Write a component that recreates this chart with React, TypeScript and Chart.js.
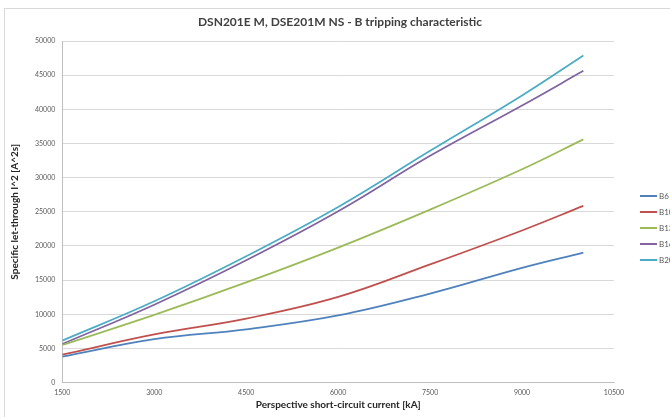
import React, { useEffect, useRef } from "react";
import { Chart, registerables } from "chart.js";

Chart.register(...registerables);

const currents = [1500, 3000, 4500, 6000, 7500, 9000, 10000];
const seriesNames = ["B6", "B10", "B13", "B16", "B20"];
const b6 = [3790, 6350, 7800, 9830, 13030, 16800, 19030];
const b10 = [4080, 7050, 9370, 12540, 17300, 22270, 25860];
const b13 = [5500, 9910, 14660, 19760, 25320, 31220, 35600];
const b16 = [5650, 11400, 17900, 25070, 33190, 40560, 45630];
const b20 = [6150, 11900, 18490, 25700, 33920, 42040, 47890];
const colors = ["#4F81BD", "#C0504D", "#9BBB59", "#8064A2", "#4BACC6"];
const chartTitle = "DSN201E M, DSE201M NS - B tripping characteristic";

const FONT = "Lato, 'Open Sans', sans-serif";

export default function App() {
  const ref = useRef<HTMLCanvasElement | null>(null);
  useEffect(() => {
    if (!ref.current) return;
    const all = [b6, b10, b13, b16, b20];
    const decorPlugin = {
      id: "decor",
      afterDraw(chart: any) {
        const ctx = chart.ctx;
        ctx.save();
        ctx.fillStyle = "#404040";
        ctx.font = `bold 12px ${FONT}`;
        ctx.textAlign = "center";
        ctx.textBaseline = "middle";
        ctx.fillText(chartTitle, 340, 22);
        chart.data.datasets.forEach((ds: any, i: number) => {
          const y = 196 + 16 * i;
          ctx.strokeStyle = ds.borderColor;
          ctx.lineWidth = 2;
          ctx.beginPath();
          ctx.moveTo(640, y);
          ctx.lineTo(657, y);
          ctx.stroke();
          ctx.fillStyle = "#595959";
          ctx.font = `8px ${FONT}`;
          ctx.textBaseline = "middle";
          ctx.textAlign = "left";
          ctx.fillText(ds.label, 659, y);
        });
        ctx.restore();
      },
    };
    const chart = new Chart(ref.current, {
      type: "line",
      data: {
        datasets: all.map((arr, i) => ({
          label: seriesNames[i],
          data: currents.map((x, j) => ({ x, y: arr[j] })),
          borderColor: colors[i],
          backgroundColor: colors[i],
          borderWidth: 1.75,
          pointRadius: 0,
          tension: 0.4,
          fill: false,
        })),
      },
      options: {
        animation: false,
        responsive: false,
        maintainAspectRatio: false,
        layout: { padding: { left: 5, right: 56, top: 41, bottom: 5 } },
        plugins: {
          legend: { display: false },
          tooltip: { enabled: false },
          title: { display: false },
        },
        scales: {
          x: {
            type: "linear",
            min: 1500,
            max: 10500,
            ticks: {
              stepSize: 1500,
              color: "#595959",
              font: { family: FONT, size: 7 },
              padding: 6,
              maxRotation: 0,
              callback: (v: any) => String(v),
            },
            grid: { display: false, drawTicks: false },
            border: { display: true, color: "#bfbfbf", width: 1 },
            title: {
              display: true,
              text: "Perspective short-circuit current [kA]",
              color: "#262626",
              font: { family: FONT, size: 10, weight: "bold" },
              padding: { top: -4, bottom: 1 },
            },
          },
          y: {
            min: 0,
            max: 50000,
            ticks: {
              stepSize: 5000,
              color: "#595959",
              font: { family: FONT, size: 7 },
              padding: 7,
              callback: (v: any) => String(v),
            },
            grid: { color: "#d9d9d9", drawTicks: false, lineWidth: 1 },
            border: { display: true, color: "#bfbfbf", width: 1 },
            title: {
              display: true,
              text: "Specific let-through I^2 [A^2s]",
              color: "#262626",
              font: { family: FONT, size: 10, weight: "bold" },
              padding: { top: 4, bottom: 7 },
            },
          },
        },
      },
      plugins: [decorPlugin],
    });
    return () => chart.destroy();
  }, []);
  return (
    <div style={{ position: "absolute", left: 0, top: 0, width: 670, height: 417, overflow: "hidden", background: "#fff" }}>
      <div
        style={{
          position: "absolute",
          left: 4,
          top: 8,
          width: 720,
          height: 440,
          border: "1px solid #d9d9d9",
          boxSizing: "border-box",
        }}
      />
      <canvas ref={ref} width={670} height={417} style={{ position: "absolute", left: 0, top: 0, width: 670, height: 417 }} />
    </div>
  );
}
